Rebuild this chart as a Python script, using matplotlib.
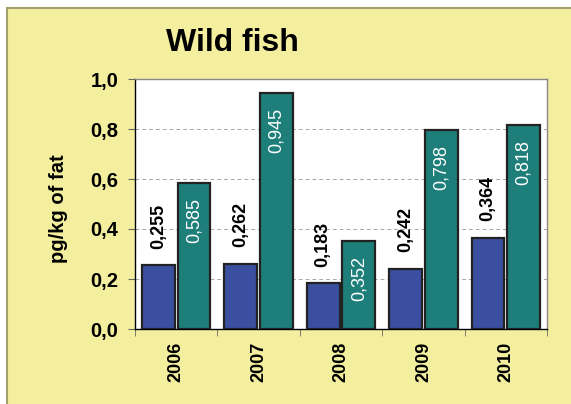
import numpy as np
import matplotlib
matplotlib.use('Agg')
import matplotlib.pyplot as plt
from matplotlib.patches import Rectangle

years = ['2006', '2007', '2008', '2009', '2010']
blue_vals = [0.255, 0.262, 0.183, 0.242, 0.364]
teal_vals = [0.585, 0.945, 0.352, 0.798, 0.818]
yticks = [0.0, 0.2, 0.4, 0.6, 0.8, 1.0]

W, H = 571, 404
bg = '#F4EF9E'
blue = '#3B4FA0'
teal = '#1E7F7A'
edge = '#222222'

plt.rcParams['font.family'] = ['Liberation Sans', 'DejaVu Sans']

fig = plt.figure(figsize=(W / 100, H / 100), dpi=100, facecolor='white')

# yellow panel, cut by the right and bottom edge of the picture
fig.patches.append(Rectangle((7 / W, -0.05), 1.1, 1 - 8 / H + 0.05,
                             transform=fig.transFigure, facecolor=bg,
                             edgecolor='#A3A070', linewidth=1.5, zorder=-10))

ax = fig.add_axes([135 / W, 1 - 329 / H, (547 - 135) / W, (329 - 79) / H])
ax.set_facecolor('white')

x = np.arange(len(years))
bw = 0.40
off = 0.216
ax.bar(x - off, blue_vals, bw, color=blue, edgecolor=edge, linewidth=1.6, zorder=3)
ax.bar(x + off, teal_vals, bw, color=teal, edgecolor=edge, linewidth=1.6, zorder=3)

for xi, v in zip(x, blue_vals):
    ax.annotate(f'{v:.3f}'.replace('.', ','), (xi - off, v), xytext=(0, 12),
                textcoords='offset points', rotation=90, ha='center', va='bottom',
                fontsize=13, fontweight='bold', color='black', zorder=4)
for xi, v in zip(x, teal_vals):
    ax.annotate(f'{v:.3f}'.replace('.', ','), (xi + off, v), xytext=(0, -11),
                textcoords='offset points', rotation=90, ha='center', va='top',
                fontsize=13, color='white', zorder=4)

ax.set_xlim(-0.5, len(years) - 0.5)
ax.set_ylim(0, 1.0)
ax.set_yticks(yticks)
ax.set_yticklabels([f'{t:.1f}'.replace('.', ',') for t in yticks],
                   fontsize=14.5, fontweight='bold')
ax.set_xticks(x)
ax.set_xticklabels(years, rotation=90, fontsize=13, fontweight='bold')
ax.set_xticks(np.arange(-0.5, len(years)), minor=True)
ax.tick_params(axis='x', which='major', length=0, pad=9)
ax.tick_params(axis='x', which='minor', length=5, color='#666666', direction='out')
ax.tick_params(axis='y', length=5, color='#666666', direction='out', pad=7)

ax.yaxis.grid(True, linestyle=(0, (4, 3)), color='#A8A8A8', linewidth=0.7, zorder=1)
ax.set_axisbelow(True)

for s in ['left', 'bottom']:
    ax.spines[s].set_color('black')
    ax.spines[s].set_linewidth(1.0)
for s in ['top', 'right']:
    ax.spines[s].set_color('#888888')
    ax.spines[s].set_linewidth(1.0)

ax.set_ylabel('pg/kg of fat', fontsize=14.5, fontweight='bold')
ax.yaxis.set_label_coords(-0.163, 0.48)

fig.text(232 / W, 1 - 43 / H, 'Wild fish', fontsize=23, fontweight='bold',
         ha='center', va='center')

fig.savefig('out.png', dpi=100, facecolor='white')
